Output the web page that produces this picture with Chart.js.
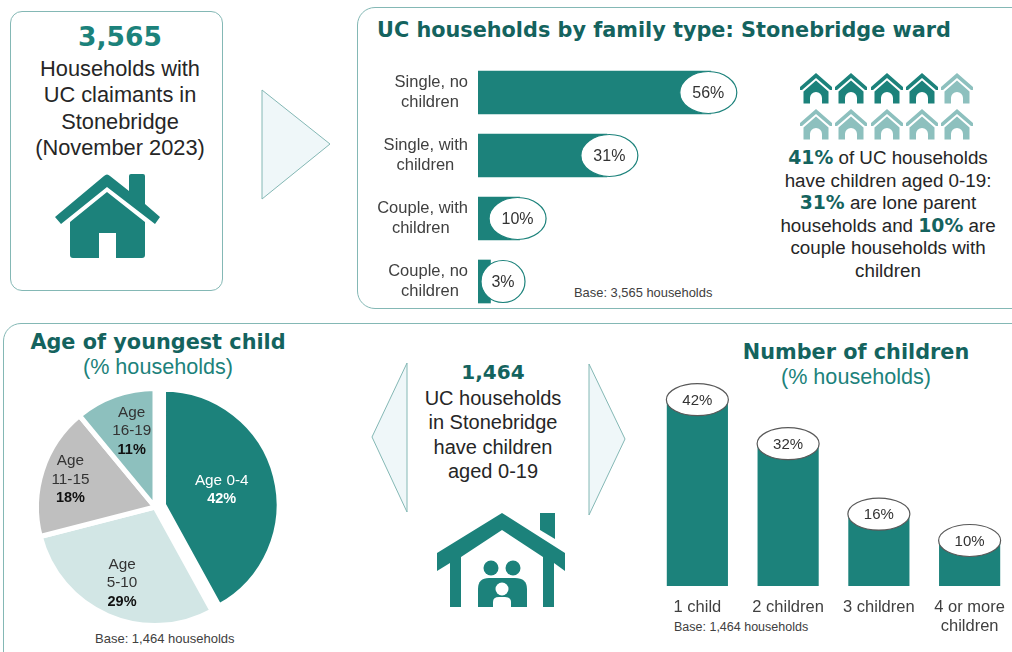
<!DOCTYPE html>
<html>
<head>
<meta charset="utf-8">
<title>UC households in Stonebridge</title>
<script src="https://cdn.jsdelivr.net/npm/chart.js@4"></script>
<style>
  html, body { margin: 0; padding: 0; background: #fff; }
  body { width: 1012px; height: 652px; position: relative; overflow: hidden;
         font-family: "Liberation Sans", Arial, sans-serif; color: #262626; }
  .box { position: absolute; border: 1.3px solid #84B8B5; box-sizing: border-box; }
  .txt { position: absolute; text-align: center; white-space: nowrap; }
  .big { font-family: "DejaVu Sans"; font-weight: bold; color: #1C827B; }
  .head { font-family: "DejaVu Sans"; font-weight: bold; color: #14635E; font-size: 20.8px; line-height: 26px; }
  .sub { color: #1C827B; font-size: 21.6px; line-height: 26px; }
  .base { color: #404040; }
  b { font-family: "DejaVu Sans"; color: #14635E; font-size: 18.8px; }
  canvas, svg { position: absolute; }
</style>
</head>
<body>
<div class="box" style="left:10px;top:11px;width:213px;height:280px;border-radius:12px"></div>
<div class="box" style="left:357px;top:7px;width:700px;height:302px;border-radius:18px"></div>
<div class="box" style="left:3px;top:323px;width:1050px;height:360px;border-radius:18px"></div>

<svg width="1012" height="652" style="left:0;top:0">
  <defs>
    <g id="tinyHouse">
      <polygon points="0,14 16,0 32,14 32,17 30,17 16,5 2,17 0,17"/>
      <path fill-rule="evenodd" d="M3.5,18.5 L16,7.6 L28.5,18.5 L28.5,30.6 L22,30.6 L22,25 A6,6 0 0 0 10,25 L10,30.6 L3.5,30.6 Z"/>
    </g>
  </defs>
  <polygon points="262,90 262,199 330,144" fill="#EFF7F9" stroke="#84B8B5" stroke-width="1"/>
  <polygon points="407,363 407,512 372,437" fill="#EFF7F9" stroke="#84B8B5" stroke-width="1"/>
  <polygon points="589,364 589,515 625,439" fill="#EFF7F9" stroke="#84B8B5" stroke-width="1"/>

  <!-- big house, top left -->
  <g fill="#1C827B">
    <path d="M55,217 L104,176 Q107,173 110,176 L129,191 L129,176 Q129,174 131,174 L143,174 Q145,174 145,176 L145,204 L160,217 L155,224 L107,187 L61,224 Z"/>
    <path d="M70,222 L107,192 L145,222 L145,255 Q145,258 142,258 L116,258 L116,233 L99,233 L99,258 L73,258 Q70,258 70,255 Z"/>
  </g>

  <!-- family house, bottom middle -->
  <g fill="#1C827B">
    <polygon points="437,553 502,513 565,553 565,571 554,563 554,607 543,607 543,557 502,530 461,557 461,607 450,607 450,563 437,571"/>
    <polygon points="540,513 555,513 555,539 540,530"/>
    <circle cx="491" cy="568" r="7.5"/>
    <circle cx="513" cy="568" r="7.5"/>
    <path d="M478,607 L478,589 Q478,578 489,578 L515,578 Q527,578 527,589 L527,607 Z"/>
    <circle cx="502" cy="589" r="6.5" fill="#fff"/>
    <path d="M493,607 L493,602 Q493,597 499,597 L505,597 Q511,597 511,602 L511,607 Z" fill="#fff"/>
  </g>

  <!-- ten small houses, four dark for 41% -->
  <use href="#tinyHouse" x="800" y="73" fill="#1C827B"/>
  <use href="#tinyHouse" x="835" y="73" fill="#1C827B"/>
  <use href="#tinyHouse" x="871" y="73" fill="#1C827B"/>
  <use href="#tinyHouse" x="906" y="73" fill="#1C827B"/>
  <use href="#tinyHouse" x="941" y="73" fill="#8DC0BE"/>
  <use href="#tinyHouse" x="800" y="109" fill="#8DC0BE"/>
  <use href="#tinyHouse" x="835" y="109" fill="#8DC0BE"/>
  <use href="#tinyHouse" x="871" y="109" fill="#8DC0BE"/>
  <use href="#tinyHouse" x="906" y="109" fill="#8DC0BE"/>
  <use href="#tinyHouse" x="941" y="109" fill="#8DC0BE"/>
</svg>

<div class="txt big" style="left:20px;width:200px;top:21px;font-size:26.5px;line-height:32px">3,565</div>
<div class="txt" style="left:20px;width:200px;top:56px;font-size:21.8px;line-height:26.3px">Households with<br>UC claimants in<br>Stonebridge<br>(November 2023)</div>

<div class="txt head" style="left:377px;top:17px">UC households by family type: Stonebridge ward</div>
<div class="txt base" style="left:574px;top:285px;font-size:12.9px;line-height:15px">Base: 3,565 households</div>

<div class="txt" style="left:768px;width:240px;top:147px;font-size:18.8px;line-height:22.6px"><b>41%</b> of UC households<br>have children aged 0-19:<br><b>31%</b> are lone parent<br>households and <b>10%</b> are<br>couple households with<br>children</div>

<div class="txt head" style="left:8px;width:300px;top:329px">Age of youngest child</div>
<div class="txt sub" style="left:8px;width:300px;top:354px">(% households)</div>
<div class="txt base" style="left:95px;top:631px;font-size:13px;line-height:15px">Base: 1,464 households</div>

<div class="txt big" style="left:393px;width:200px;top:359px;font-size:20px;line-height:26px;color:#14635E">1,464</div>
<div class="txt" style="left:393px;width:200px;top:386px;font-size:20px;line-height:24.4px">UC households<br>in Stonebridge<br>have children<br>aged 0-19</div>

<div class="txt head" style="left:706px;width:300px;top:339px">Number of children</div>
<div class="txt sub" style="left:706px;width:300px;top:364px">(% households)</div>
<div class="txt base" style="left:674px;top:620px;font-size:12.5px;line-height:15px">Base: 1,464 households</div>

<canvas id="familyChart" width="409" height="252" style="left:360px;top:61px"></canvas>
<canvas id="ageChart" width="310" height="300" style="left:0;top:357px"></canvas>
<canvas id="childrenChart" width="363" height="280" style="left:652px;top:366px"></canvas>

<script>
const familyTypes = [["Single, no", "children"], ["Single, with", "children"], ["Couple, with", "children"], ["Couple, no", "children"]];
const familyValues = [56, 31, 10, 3];

const ageGroups = [["Age 0-4"], ["Age", "5-10"], ["Age", "11-15"], ["Age", "16-19"]];
const ageValues = [42, 29, 18, 11];

const childCounts = ["1 child", "2 children", "3 children", ["4 or more", "children"]];
const childValues = [42, 32, 16, 10];

const TEAL = "#1C827B";
const FONT = "'Liberation Sans'";

Chart.defaults.font.family = FONT;
Chart.defaults.animation = false;
Chart.defaults.responsive = false;
Chart.defaults.plugins.legend.display = false;
Chart.defaults.plugins.tooltip.enabled = false;

function ellipse(ctx, x, y, w, h, stroke, text, size) {
  ctx.save();
  ctx.beginPath();
  ctx.ellipse(x, y, w / 2, h / 2, 0, 0, Math.PI * 2);
  ctx.fillStyle = "#fff";
  ctx.fill();
  ctx.lineWidth = 1.2;
  ctx.strokeStyle = stroke;
  ctx.stroke();
  ctx.fillStyle = "#333";
  ctx.font = size + "px " + FONT;
  ctx.textAlign = "center";
  ctx.textBaseline = "middle";
  ctx.fillText(text, x, y + 1);
  ctx.restore();
}

// right aligned tick labels whose lines are centred on each other
const measure = document.createElement("canvas").getContext("2d");
measure.font = "16.5px " + FONT;
function centreLines(lines) {
  const widths = lines.map((l) => measure.measureText(l).width);
  const widest = Math.max(...widths);
  const nbsp = measure.measureText("\u00A0").width;
  return lines.map((l, i) => l + "\u00A0".repeat(Math.round((widest - widths[i]) / 2 / nbsp)));
}

// the ovals do not sit exactly on the bar ends in the original
const ovalNudge = [-2.5, 2.5, -2, 1];

new Chart(document.getElementById("familyChart"), {
  type: "bar",
  data: {
    labels: familyTypes,
    datasets: [{ data: familyValues, backgroundColor: TEAL, barThickness: 43 }],
  },
  options: {
    indexAxis: "y",
    layout: { padding: 0 },
    scales: {
      x: { display: false, min: 0, max: 70 },
      y: {
        grid: { display: false, drawTicks: false },
        border: { display: false },
        afterFit: (scale) => {
          scale.width = 118;
          scale.paddingTop = 0;
          scale.paddingBottom = 0;
        },
        ticks: {
          padding: 10,
          color: "#404040",
          font: { size: 16.5, lineHeight: 1.16 },
          callback: function (value) { return centreLines(this.getLabelForValue(value)); },
        },
      },
    },
  },
  plugins: [{
    id: "familyEllipses",
    afterDatasetsDraw(chart) {
      const left = chart.chartArea.left;
      chart.getDatasetMeta(0).data.forEach((bar, i) => {
        const small = familyValues[i] < 5;
        ellipse(chart.ctx, Math.max(bar.x, left + 24) + ovalNudge[i], bar.y, small ? 44 : 57, 42, TEAL, familyValues[i] + "%", 16);
      });
    },
  }],
});

// white gaps, with the first slice pulled out further than the others
const sliceGap = 8.8;
const labelReach = [0.52, 0.7, 0.75, 0.68];
const labelNudge = [0, 0, 0, 4];

new Chart(document.getElementById("ageChart"), {
  type: "pie",
  data: {
    labels: ageGroups,
    datasets: [{
      data: ageValues,
      backgroundColor: [TEAL, "#D2E6E5", "#BFBFBF", "#8DC0BE"],
      borderColor: "#fff",
      borderWidth: 5,
    }],
  },
  options: { radius: 118.5, layout: { padding: 0 } },
  plugins: [{
    id: "pieLabels",
    afterDatasetsUpdate(chart) {
      const first = chart.getDatasetMeta(0).data[0];
      const mid = (first.startAngle + first.endAngle) / 2;
      first.x += Math.cos(mid) * sliceGap;
      first.y += Math.sin(mid) * sliceGap;
      first.outerRadius -= 3;
    },
    afterDatasetsDraw(chart) {
      const ctx = chart.ctx;
      ctx.save();
      ctx.textAlign = "center";
      ctx.textBaseline = "middle";
      chart.getDatasetMeta(0).data.forEach((arc, i) => {
        const mid = (arc.startAngle + arc.endAngle) / 2;
        const r = arc.outerRadius * labelReach[i];
        const x = arc.x + Math.cos(mid) * r + labelNudge[i];
        const y = arc.y + Math.sin(mid) * r;
        const lines = ageGroups[i];
        const total = lines.length + 1;
        lines.forEach((line, n) => {
          ctx.font = "15.3px " + FONT;
          ctx.fillStyle = i === 0 ? "#fff" : "#333";
          ctx.fillText(line, x, y + (n - (total - 1) / 2) * 18.7);
        });
        ctx.font = "bold 14.5px " + FONT;
        ctx.fillStyle = i === 0 ? "#fff" : "#111";
        ctx.fillText(ageValues[i] + "%", x, y + ((total - 1) / 2) * 18.7);
      });
      ctx.restore();
    },
  }],
});

new Chart(document.getElementById("childrenChart"), {
  type: "bar",
  data: {
    labels: childCounts,
    datasets: [{ data: childValues, backgroundColor: TEAL, barThickness: 60.5 }],
  },
  options: {
    layout: { padding: 0 },
    scales: {
      y: { display: false, min: 0, max: 50 },
      x: {
        grid: { display: false, drawTicks: false },
        border: { display: false },
        afterFit: (scale) => {
          scale.height = 60;
          scale.paddingLeft = 0;
          scale.paddingRight = 0;
        },
        ticks: {
          padding: 12,
          color: "#404040",
          maxRotation: 0,
          font: { size: 16.5, lineHeight: 1.16 },
        },
      },
    },
  },
  plugins: [{
    id: "childEllipses",
    afterDatasetsDraw(chart) {
      chart.getDatasetMeta(0).data.forEach((bar, i) => {
        ellipse(chart.ctx, bar.x, bar.y - 1.5, 62, 32, "#595959", childValues[i] + "%", 15);
      });
    },
  }],
});
</script>
</body>
</html>
